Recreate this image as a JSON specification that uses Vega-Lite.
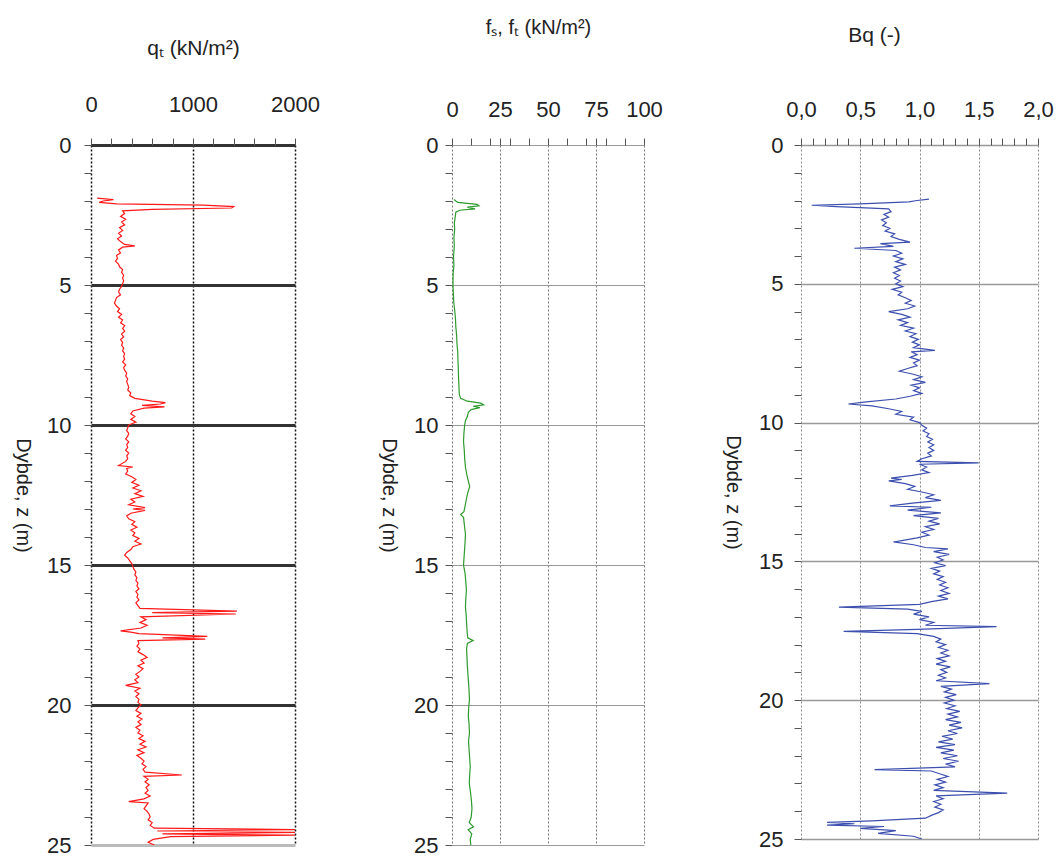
{
  "$schema": "https://vega.github.io/schema/vega-lite/v6.json",
  "background": "white",
  "padding": {"left": 12, "top": 17, "right": 5, "bottom": 5},
  "spacing": 157,
  "bounds": "flush",
  "config": {
    "font": "Liberation Sans",
    "view": {"stroke": null},
    "axis": {
      "labelFont": "Liberation Sans",
      "labelFontSize": 22,
      "labelColor": "#222",
      "titleFont": "Liberation Sans",
      "titleFontWeight": "normal",
      "titleColor": "#222",
      "domain": false,
      "tickColor": "#555",
      "tickSize": 7,
      "labelOverlap": false,
      "labelFlush": false,
      "labelBound": false
    }
  },
  "datasets": {
    "qt": [
      {"z":1.9,"v":60},{"z":1.95,"v":220},{"z":2.0,"v":120},{"z":2.05,"v":80},{"z":2.1,"v":250},{"z":2.15,"v":1100},{"z":2.2,"v":1400},{"z":2.25,"v":1380},{"z":2.3,"v":600},{"z":2.35,"v":310},{"z":2.45,"v":330},{"z":2.55,"v":290},{"z":2.65,"v":340},{"z":2.75,"v":300},{"z":2.85,"v":330},{"z":2.95,"v":280},{"z":3.05,"v":310},{"z":3.15,"v":270},{"z":3.25,"v":300},{"z":3.35,"v":260},{"z":3.45,"v":290},{"z":3.55,"v":330},{"z":3.6,"v":430},{"z":3.65,"v":310},{"z":3.75,"v":270},{"z":3.85,"v":290},{"z":3.95,"v":250},{"z":4.05,"v":260},{"z":4.15,"v":240},{"z":4.25,"v":270},{"z":4.35,"v":280},{"z":4.45,"v":310},{"z":4.55,"v":300},{"z":4.65,"v":320},{"z":4.75,"v":310},{"z":4.85,"v":320},{"z":4.95,"v":310},{"z":5.05,"v":300},{"z":5.15,"v":280},{"z":5.25,"v":270},{"z":5.35,"v":290},{"z":5.45,"v":250},{"z":5.55,"v":240},{"z":5.65,"v":230},{"z":5.75,"v":250},{"z":5.85,"v":280},{"z":5.95,"v":260},{"z":6.05,"v":300},{"z":6.15,"v":270},{"z":6.25,"v":310},{"z":6.35,"v":290},{"z":6.45,"v":330},{"z":6.55,"v":310},{"z":6.65,"v":330},{"z":6.75,"v":300},{"z":6.85,"v":320},{"z":6.95,"v":290},{"z":7.05,"v":310},{"z":7.15,"v":300},{"z":7.25,"v":320},{"z":7.35,"v":310},{"z":7.45,"v":330},{"z":7.55,"v":320},{"z":7.65,"v":330},{"z":7.75,"v":310},{"z":7.85,"v":340},{"z":7.95,"v":320},{"z":8.05,"v":330},{"z":8.15,"v":350},{"z":8.25,"v":340},{"z":8.35,"v":360},{"z":8.45,"v":350},{"z":8.55,"v":360},{"z":8.65,"v":370},{"z":8.75,"v":360},{"z":8.85,"v":390},{"z":8.95,"v":380},{"z":9.05,"v":430},{"z":9.15,"v":600},{"z":9.2,"v":730},{"z":9.25,"v":680},{"z":9.3,"v":500},{"z":9.35,"v":720},{"z":9.4,"v":520},{"z":9.5,"v":410},{"z":9.6,"v":390},{"z":9.7,"v":430},{"z":9.8,"v":390},{"z":9.9,"v":440},{"z":10.0,"v":370},{"z":10.1,"v":360},{"z":10.2,"v":350},{"z":10.3,"v":370},{"z":10.4,"v":360},{"z":10.5,"v":340},{"z":10.6,"v":370},{"z":10.7,"v":350},{"z":10.8,"v":360},{"z":10.9,"v":340},{"z":11.0,"v":370},{"z":11.1,"v":350},{"z":11.2,"v":360},{"z":11.3,"v":340},{"z":11.45,"v":270},{"z":11.5,"v":410},{"z":11.55,"v":350},{"z":11.65,"v":360},{"z":11.75,"v":340},{"z":11.85,"v":400},{"z":11.95,"v":440},{"z":12.05,"v":400},{"z":12.15,"v":470},{"z":12.25,"v":410},{"z":12.35,"v":490},{"z":12.45,"v":430},{"z":12.55,"v":510},{"z":12.65,"v":390},{"z":12.75,"v":430},{"z":12.85,"v":370},{"z":12.95,"v":530},{"z":13.0,"v":410},{"z":13.05,"v":530},{"z":13.15,"v":390},{"z":13.25,"v":350},{"z":13.35,"v":370},{"z":13.45,"v":430},{"z":13.55,"v":400},{"z":13.65,"v":450},{"z":13.75,"v":390},{"z":13.85,"v":430},{"z":13.95,"v":410},{"z":14.05,"v":470},{"z":14.15,"v":430},{"z":14.25,"v":490},{"z":14.35,"v":410},{"z":14.45,"v":390},{"z":14.55,"v":350},{"z":14.65,"v":330},{"z":14.75,"v":360},{"z":14.85,"v":380},{"z":14.95,"v":400},{"z":15.05,"v":410},{"z":15.15,"v":420},{"z":15.25,"v":440},{"z":15.35,"v":430},{"z":15.45,"v":450},{"z":15.55,"v":440},{"z":15.65,"v":460},{"z":15.75,"v":450},{"z":15.85,"v":470},{"z":15.95,"v":440},{"z":16.05,"v":460},{"z":16.15,"v":450},{"z":16.25,"v":470},{"z":16.35,"v":440},{"z":16.45,"v":460},{"z":16.55,"v":480},{"z":16.65,"v":1430},{"z":16.7,"v":600},{"z":16.75,"v":1420},{"z":16.85,"v":490},{"z":16.95,"v":540},{"z":17.05,"v":480},{"z":17.15,"v":550},{"z":17.25,"v":490},{"z":17.35,"v":290},{"z":17.4,"v":390},{"z":17.45,"v":470},{"z":17.55,"v":1140},{"z":17.6,"v":700},{"z":17.65,"v":1120},{"z":17.7,"v":460},{"z":17.8,"v":470},{"z":17.9,"v":450},{"z":18.0,"v":480},{"z":18.1,"v":460},{"z":18.2,"v":510},{"z":18.3,"v":550},{"z":18.4,"v":490},{"z":18.5,"v":520},{"z":18.6,"v":460},{"z":18.7,"v":510},{"z":18.8,"v":480},{"z":18.9,"v":440},{"z":19.0,"v":470},{"z":19.1,"v":430},{"z":19.2,"v":460},{"z":19.3,"v":340},{"z":19.4,"v":480},{"z":19.5,"v":430},{"z":19.6,"v":470},{"z":19.7,"v":440},{"z":19.8,"v":470},{"z":19.9,"v":460},{"z":20.0,"v":490},{"z":20.1,"v":460},{"z":20.2,"v":440},{"z":20.3,"v":490},{"z":20.4,"v":450},{"z":20.5,"v":500},{"z":20.6,"v":460},{"z":20.7,"v":490},{"z":20.8,"v":440},{"z":20.9,"v":480},{"z":21.0,"v":460},{"z":21.1,"v":510},{"z":21.2,"v":470},{"z":21.3,"v":530},{"z":21.4,"v":480},{"z":21.5,"v":540},{"z":21.6,"v":460},{"z":21.7,"v":520},{"z":21.8,"v":450},{"z":21.9,"v":490},{"z":22.0,"v":520},{"z":22.1,"v":500},{"z":22.2,"v":540},{"z":22.3,"v":510},{"z":22.4,"v":530},{"z":22.5,"v":890},{"z":22.55,"v":520},{"z":22.65,"v":560},{"z":22.75,"v":530},{"z":22.85,"v":570},{"z":22.95,"v":540},{"z":23.05,"v":560},{"z":23.15,"v":530},{"z":23.25,"v":580},{"z":23.35,"v":520},{"z":23.45,"v":370},{"z":23.5,"v":560},{"z":23.6,"v":540},{"z":23.7,"v":520},{"z":23.8,"v":550},{"z":23.9,"v":570},{"z":24.0,"v":580},{"z":24.1,"v":560},{"z":24.2,"v":600},{"z":24.3,"v":580},{"z":24.4,"v":620},{"z":24.45,"v":2000},{"z":24.5,"v":650},{"z":24.55,"v":2000},{"z":24.6,"v":700},{"z":24.65,"v":2000},{"z":24.7,"v":780},{"z":24.8,"v":610},{"z":24.9,"v":560},{"z":25.0,"v":620}
    ],
    "fs": [
      {"z":1.95,"v":1},{"z":2.05,"v":3},{"z":2.12,"v":13},{"z":2.17,"v":14},{"z":2.22,"v":8},{"z":2.28,"v":12},{"z":2.33,"v":4},{"z":2.4,"v":2},{"z":2.6,"v":1.6},{"z":2.8,"v":1.2},{"z":3.0,"v":1.4},{"z":3.3,"v":1.0},{"z":3.6,"v":1.2},{"z":4.0,"v":0.8},{"z":4.3,"v":1.0},{"z":4.6,"v":0.6},{"z":5.0,"v":0.5},{"z":5.3,"v":0.7},{"z":5.6,"v":0.9},{"z":5.9,"v":1.4},{"z":6.2,"v":1.8},{"z":6.5,"v":2.0},{"z":6.8,"v":2.4},{"z":7.1,"v":2.6},{"z":7.4,"v":3.0},{"z":7.7,"v":3.1},{"z":8.0,"v":3.3},{"z":8.3,"v":3.4},{"z":8.6,"v":3.6},{"z":8.9,"v":3.8},{"z":9.05,"v":4.5},{"z":9.15,"v":8},{"z":9.22,"v":15},{"z":9.28,"v":16.5},{"z":9.33,"v":11},{"z":9.38,"v":14.5},{"z":9.45,"v":10},{"z":9.55,"v":8.5},{"z":9.7,"v":8},{"z":9.85,"v":7},{"z":10.0,"v":6.6},{"z":10.3,"v":6.2},{"z":10.6,"v":6.0},{"z":10.9,"v":6.4},{"z":11.2,"v":6.6},{"z":11.5,"v":7.0},{"z":11.8,"v":7.8},{"z":12.0,"v":8.5},{"z":12.2,"v":9.2},{"z":12.4,"v":8.3},{"z":12.6,"v":7.6},{"z":12.9,"v":6.8},{"z":13.1,"v":6.2},{"z":13.2,"v":4.5},{"z":13.3,"v":6.0},{"z":13.6,"v":6.5},{"z":13.9,"v":7.0},{"z":14.2,"v":6.8},{"z":14.5,"v":6.5},{"z":14.8,"v":6.2},{"z":15.0,"v":6.0},{"z":15.3,"v":6.8},{"z":15.6,"v":7.2},{"z":15.9,"v":7.5},{"z":16.2,"v":7.2},{"z":16.5,"v":7.0},{"z":16.8,"v":7.4},{"z":17.1,"v":7.6},{"z":17.4,"v":7.9},{"z":17.6,"v":8.2},{"z":17.7,"v":11.0},{"z":17.8,"v":8.0},{"z":18.0,"v":7.6},{"z":18.3,"v":7.8},{"z":18.6,"v":8.0},{"z":18.9,"v":8.3},{"z":19.2,"v":8.6},{"z":19.5,"v":8.9},{"z":19.8,"v":9.1},{"z":20.1,"v":8.7},{"z":20.4,"v":8.5},{"z":20.7,"v":8.9},{"z":21.0,"v":9.1},{"z":21.3,"v":8.6},{"z":21.6,"v":8.9},{"z":21.9,"v":9.2},{"z":22.2,"v":9.5},{"z":22.5,"v":9.2},{"z":22.8,"v":9.0},{"z":23.1,"v":9.6},{"z":23.4,"v":10.1},{"z":23.7,"v":10.4},{"z":24.0,"v":10.0},{"z":24.2,"v":9.0},{"z":24.35,"v":11.2},{"z":24.45,"v":8.4},{"z":24.6,"v":10.3},{"z":24.8,"v":9.5},{"z":25.0,"v":9.8}
    ],
    "bq": [
      {"z":1.95,"v":1.08},{"z":2.0,"v":0.98},{"z":2.05,"v":0.91},{"z":2.12,"v":0.5},{"z":2.17,"v":0.09},{"z":2.22,"v":0.3},{"z":2.3,"v":0.74},{"z":2.4,"v":0.76},{"z":2.5,"v":0.7},{"z":2.6,"v":0.74},{"z":2.7,"v":0.68},{"z":2.8,"v":0.72},{"z":2.9,"v":0.69},{"z":3.0,"v":0.75},{"z":3.1,"v":0.71},{"z":3.2,"v":0.79},{"z":3.3,"v":0.76},{"z":3.4,"v":0.83},{"z":3.5,"v":0.92},{"z":3.55,"v":0.67},{"z":3.65,"v":0.78},{"z":3.72,"v":0.45},{"z":3.8,"v":0.8},{"z":3.9,"v":0.85},{"z":4.0,"v":0.78},{"z":4.1,"v":0.86},{"z":4.2,"v":0.8},{"z":4.3,"v":0.88},{"z":4.4,"v":0.79},{"z":4.5,"v":0.84},{"z":4.6,"v":0.78},{"z":4.7,"v":0.83},{"z":4.8,"v":0.79},{"z":4.9,"v":0.84},{"z":5.0,"v":0.8},{"z":5.1,"v":0.86},{"z":5.2,"v":0.77},{"z":5.3,"v":0.85},{"z":5.4,"v":0.82},{"z":5.5,"v":0.88},{"z":5.6,"v":0.93},{"z":5.7,"v":0.88},{"z":5.8,"v":0.96},{"z":5.9,"v":0.9},{"z":6.0,"v":0.74},{"z":6.1,"v":0.85},{"z":6.2,"v":0.92},{"z":6.3,"v":0.82},{"z":6.4,"v":0.9},{"z":6.5,"v":0.84},{"z":6.6,"v":0.95},{"z":6.7,"v":0.88},{"z":6.8,"v":0.97},{"z":6.9,"v":0.92},{"z":7.0,"v":0.99},{"z":7.1,"v":0.94},{"z":7.2,"v":1.0},{"z":7.3,"v":0.95},{"z":7.4,"v":1.13},{"z":7.45,"v":0.93},{"z":7.55,"v":0.98},{"z":7.65,"v":0.92},{"z":7.75,"v":1.0},{"z":7.85,"v":0.95},{"z":7.95,"v":0.98},{"z":8.05,"v":0.9},{"z":8.15,"v":0.83},{"z":8.25,"v":0.94},{"z":8.35,"v":1.02},{"z":8.45,"v":0.95},{"z":8.55,"v":1.05},{"z":8.65,"v":0.93},{"z":8.75,"v":1.0},{"z":8.85,"v":0.95},{"z":8.95,"v":1.02},{"z":9.05,"v":0.92},{"z":9.15,"v":0.8},{"z":9.25,"v":0.55},{"z":9.33,"v":0.4},{"z":9.4,"v":0.6},{"z":9.5,"v":0.74},{"z":9.6,"v":0.85},{"z":9.7,"v":0.8},{"z":9.8,"v":0.95},{"z":9.9,"v":0.92},{"z":10.0,"v":1.0},{"z":10.1,"v":1.02},{"z":10.2,"v":1.06},{"z":10.3,"v":1.03},{"z":10.4,"v":1.08},{"z":10.5,"v":1.06},{"z":10.6,"v":1.11},{"z":10.7,"v":1.07},{"z":10.8,"v":1.12},{"z":10.9,"v":1.08},{"z":11.0,"v":1.12},{"z":11.1,"v":1.07},{"z":11.2,"v":1.1},{"z":11.3,"v":1.02},{"z":11.4,"v":0.98},{"z":11.45,"v":1.5},{"z":11.5,"v":1.0},{"z":11.6,"v":1.06},{"z":11.7,"v":1.02},{"z":11.8,"v":1.08},{"z":11.9,"v":0.94},{"z":12.0,"v":0.76},{"z":12.05,"v":0.85},{"z":12.1,"v":0.74},{"z":12.2,"v":0.88},{"z":12.3,"v":0.96},{"z":12.4,"v":0.9},{"z":12.5,"v":1.02},{"z":12.6,"v":1.12},{"z":12.7,"v":1.05},{"z":12.8,"v":1.18},{"z":12.9,"v":0.94},{"z":13.0,"v":0.75},{"z":13.05,"v":1.1},{"z":13.15,"v":0.9},{"z":13.25,"v":1.18},{"z":13.35,"v":0.95},{"z":13.45,"v":1.16},{"z":13.55,"v":1.08},{"z":13.65,"v":1.17},{"z":13.75,"v":1.05},{"z":13.85,"v":1.12},{"z":13.95,"v":1.02},{"z":14.05,"v":1.08},{"z":14.15,"v":0.98},{"z":14.25,"v":0.85},{"z":14.3,"v":0.78},{"z":14.4,"v":0.95},{"z":14.5,"v":1.05},{"z":14.55,"v":1.24},{"z":14.65,"v":1.12},{"z":14.75,"v":1.25},{"z":14.85,"v":1.15},{"z":14.95,"v":1.2},{"z":15.05,"v":1.13},{"z":15.15,"v":1.22},{"z":15.25,"v":1.1},{"z":15.35,"v":1.17},{"z":15.45,"v":1.12},{"z":15.55,"v":1.2},{"z":15.65,"v":1.15},{"z":15.75,"v":1.22},{"z":15.85,"v":1.17},{"z":15.95,"v":1.24},{"z":16.05,"v":1.18},{"z":16.15,"v":1.25},{"z":16.25,"v":1.16},{"z":16.35,"v":1.24},{"z":16.45,"v":1.1},{"z":16.55,"v":1.0},{"z":16.65,"v":0.32},{"z":16.72,"v":0.9},{"z":16.8,"v":1.02},{"z":16.9,"v":0.95},{"z":17.0,"v":1.08},{"z":17.1,"v":1.0},{"z":17.2,"v":1.12},{"z":17.3,"v":1.05},{"z":17.35,"v":1.65},{"z":17.45,"v":0.98},{"z":17.52,"v":0.36},{"z":17.6,"v":0.98},{"z":17.7,"v":1.12},{"z":17.8,"v":1.18},{"z":17.9,"v":1.14},{"z":18.0,"v":1.22},{"z":18.1,"v":1.16},{"z":18.2,"v":1.24},{"z":18.3,"v":1.18},{"z":18.4,"v":1.25},{"z":18.5,"v":1.15},{"z":18.6,"v":1.22},{"z":18.7,"v":1.14},{"z":18.8,"v":1.26},{"z":18.9,"v":1.18},{"z":19.0,"v":1.23},{"z":19.1,"v":1.16},{"z":19.2,"v":1.22},{"z":19.3,"v":1.14},{"z":19.4,"v":1.59},{"z":19.5,"v":1.18},{"z":19.6,"v":1.27},{"z":19.7,"v":1.21},{"z":19.8,"v":1.31},{"z":19.9,"v":1.22},{"z":20.0,"v":1.29},{"z":20.1,"v":1.21},{"z":20.2,"v":1.3},{"z":20.3,"v":1.23},{"z":20.4,"v":1.34},{"z":20.5,"v":1.24},{"z":20.6,"v":1.32},{"z":20.7,"v":1.22},{"z":20.8,"v":1.35},{"z":20.9,"v":1.25},{"z":21.0,"v":1.36},{"z":21.1,"v":1.24},{"z":21.2,"v":1.32},{"z":21.3,"v":1.19},{"z":21.4,"v":1.28},{"z":21.5,"v":1.16},{"z":21.6,"v":1.3},{"z":21.7,"v":1.14},{"z":21.8,"v":1.29},{"z":21.9,"v":1.18},{"z":22.0,"v":1.32},{"z":22.1,"v":1.2},{"z":22.2,"v":1.33},{"z":22.3,"v":1.22},{"z":22.4,"v":1.3},{"z":22.5,"v":0.62},{"z":22.55,"v":1.1},{"z":22.65,"v":1.17},{"z":22.75,"v":1.24},{"z":22.85,"v":1.15},{"z":22.95,"v":1.22},{"z":23.05,"v":1.13},{"z":23.15,"v":1.2},{"z":23.25,"v":1.12},{"z":23.35,"v":1.74},{"z":23.45,"v":1.14},{"z":23.55,"v":1.2},{"z":23.65,"v":1.12},{"z":23.75,"v":1.18},{"z":23.85,"v":1.13},{"z":23.95,"v":1.2},{"z":24.05,"v":1.16},{"z":24.15,"v":1.1},{"z":24.25,"v":1.05},{"z":24.35,"v":0.6},{"z":24.4,"v":0.22},{"z":24.45,"v":0.45},{"z":24.5,"v":0.22},{"z":24.55,"v":0.7},{"z":24.62,"v":0.5},{"z":24.7,"v":0.8},{"z":24.8,"v":0.65},{"z":24.9,"v":0.95},{"z":25.0,"v":1.02}
    ]
  },
  "hconcat": [
    {
      "width": 204,
      "height": 700,
      "data": {"name": "qt"},
      "mark": {"type": "line", "color": "#ff1a1a", "strokeWidth": 1.2, "clip": true},
      "encoding": {
        "x": {
          "field": "v", "type": "quantitative",
          "scale": {"domain": [0, 2000], "nice": false},
          "axis": {
            "orient": "top",
            "title": "qₜ (kN/m²)",
            "titleFontSize": 21,
            "titlePadding": 35,
            "labelPadding": 22,
            "values": [0,200,400,600,800,1000,1200,1400,1600,1800,2000],
            "labelExpr": "datum.value % 1000 === 0 ? format(datum.value, 'd') : ''",
            "grid": true,
            "gridColor": "#111",
            "gridDash": [2, 2],
            "gridWidth": 1.5,
            "gridOpacity": {"condition": {"test": "datum.value % 1000 === 0", "value": 1}, "value": 0}
          }
        },
        "y": {
          "field": "z", "type": "quantitative",
          "scale": {"domain": [0, 25], "reverse": true, "nice": false},
          "axis": {
            "title": "Dybde, z (m)",
            "titleAngle": 90,
            "titleFontSize": 20,
            "titlePadding": 34,
            "labelPadding": 13,
            "values": [0,1,2,3,4,5,6,7,8,9,10,11,12,13,14,15,16,17,18,19,20,21,22,23,24,25],
            "labelExpr": "datum.value % 5 === 0 ? datum.label : ''",
            "grid": true,
            "gridColor": {"condition": {"test": "datum.value === 25", "value": "#bbb"}, "value": "#333"},
            "gridWidth": 3,
            "gridOpacity": {"condition": {"test": "datum.value % 5 === 0", "value": 1}, "value": 0}
          }
        },
        "order": {"field": "z", "type": "quantitative"}
      }
    },
    {
      "width": 192,
      "height": 700,
      "data": {"name": "fs"},
      "mark": {"type": "line", "color": "#2f9b2f", "strokeWidth": 1.2, "clip": true},
      "encoding": {
        "x": {
          "field": "v", "type": "quantitative",
          "scale": {"domain": [0, 100], "nice": false},
          "axis": {
            "orient": "top",
            "title": "fₛ, fₜ (kN/m²)",
            "titleFontSize": 20,
            "titlePadding": 61,
            "titleX": 86,
            "labelPadding": 17,
            "values": [0,10,20,25,30,40,50,60,70,75,80,90,100],
            "labelExpr": "datum.value % 25 === 0 ? datum.label : ''",
            "grid": true,
            "gridColor": "#777",
            "gridDash": [2, 2],
            "gridWidth": 1,
            "gridOpacity": {"condition": {"test": "datum.value % 25 === 0", "value": 1}, "value": 0}
          }
        },
        "y": {
          "field": "z", "type": "quantitative",
          "scale": {"domain": [0, 25], "reverse": true, "nice": false},
          "axis": {
            "title": "Dybde, z (m)",
            "titleAngle": 90,
            "titleFontSize": 20,
            "titlePadding": 35,
            "labelPadding": 7,
            "values": [0,1,2,3,4,5,6,7,8,9,10,11,12,13,14,15,16,17,18,19,20,21,22,23,24,25],
            "labelExpr": "datum.value % 5 === 0 ? datum.label : ''",
            "grid": true,
            "gridColor": "#999",
            "gridWidth": 1.2,
            "gridOpacity": {"condition": {"test": "datum.value % 5 === 0", "value": 1}, "value": 0}
          }
        },
        "order": {"field": "z", "type": "quantitative"}
      }
    },
    {
      "width": 237,
      "height": 694,
      "data": {"name": "bq"},
      "mark": {"type": "line", "color": "#3d4fae", "strokeWidth": 1.2, "clip": true},
      "encoding": {
        "x": {
          "field": "v", "type": "quantitative",
          "scale": {"domain": [0, 2], "nice": false},
          "axis": {
            "orient": "top",
            "title": "Bq (-)",
            "titleFontSize": 21,
            "titlePadding": 53,
            "titleX": 73,
            "labelPadding": 17,
            "values": [0,0.1,0.2,0.3,0.4,0.5,0.6,0.7,0.8,0.9,1.0,1.1,1.2,1.3,1.4,1.5,1.6,1.7,1.8,1.9,2.0],
            "labelExpr": "round(datum.value * 10) % 5 === 0 ? replace(format(datum.value, '.1f'), '.', ',') : ''",
            "grid": true,
            "gridColor": "#888",
            "gridDash": [2, 2],
            "gridWidth": 1,
            "gridOpacity": {"condition": {"test": "round(datum.value * 10) % 5 === 0", "value": 1}, "value": 0}
          }
        },
        "y": {
          "field": "z", "type": "quantitative",
          "scale": {"domain": [0, 25], "reverse": true, "nice": false},
          "axis": {
            "title": "Dybde, z (m)",
            "titleAngle": 90,
            "titleFontSize": 20,
            "titlePadding": 36,
            "labelPadding": 11,
            "values": [0,1,2,3,4,5,6,7,8,9,10,11,12,13,14,15,16,17,18,19,20,21,22,23,24,25],
            "labelExpr": "datum.value % 5 === 0 ? datum.label : ''",
            "grid": true,
            "gridColor": "#999",
            "gridWidth": 1.5,
            "gridOpacity": {"condition": {"test": "datum.value % 5 === 0", "value": 1}, "value": 0}
          }
        },
        "order": {"field": "z", "type": "quantitative"}
      }
    }
  ]
}
